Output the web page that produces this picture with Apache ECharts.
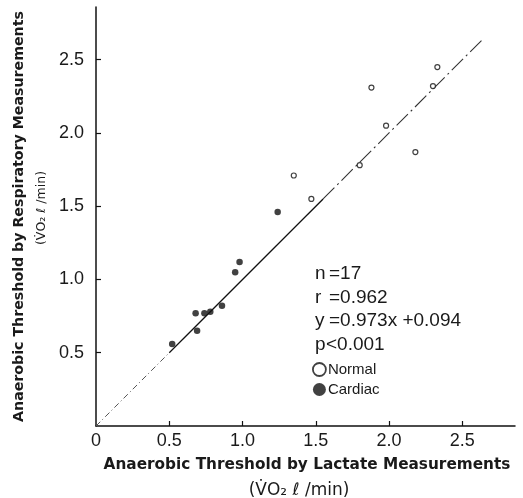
<!DOCTYPE html>
<html>
<head>
<meta charset="utf-8">
<script src="https://cdn.jsdelivr.net/npm/echarts@6/dist/echarts.min.js"></script>
<style>
html,body{margin:0;padding:0;background:#fff;}
#chart{width:523px;height:498px;}
</style>
</head>
<body>
<div id="chart"></div>
<script>
// ---- data ----
var normalX  = [1.35, 1.47, 1.80, 1.88, 1.98, 2.18, 2.30, 2.33];
var normalY  = [1.71, 1.55, 1.78, 2.31, 2.05, 1.87, 2.32, 2.45];
var cardiacX = [0.52, 0.68, 0.69, 0.74, 0.78, 0.86, 0.95, 0.98, 1.24];
var cardiacY = [0.56, 0.77, 0.65, 0.77, 0.78, 0.82, 1.05, 1.12, 1.46];
// identity line y = x, split where the printed line changes style
var lineLowX   = [0.0, 0.5];
var lineMidX   = [0.5, 1.55];
var lineHighX  = [1.55, 2.65];
var xTickVals = [0, 0.5, 1.0, 1.5, 2.0, 2.5];
var yTickVals = [0.5, 1.0, 1.5, 2.0, 2.5];
var statLabels = ['n', 'r', 'y', 'p'];
var statValues = ['=17', '=0.962', '=0.973x +0.094', '<0.001'];
var seriesNames = ['Normal', 'Cardiac'];
var xTitle1 = 'Anaerobic Threshold by Lactate Measurements';
var yTitle1 = 'Anaerobic Threshold by Respiratory Measurements';
var unitTitle = '(V\u0307O\u2082 \u2113 /min)';

function pairs(xs, ys) { return xs.map(function (x, i) { return [x, ys[i]]; }); }
function ident(xs) { return xs.map(function (x) { return [x, x]; }); }
function fmt(v) { return v === 0 ? '0' : v.toFixed(1); }

var chart = echarts.init(document.getElementById('chart'));
var FONT = 'Liberation Sans';

var graphics = [];
var statY = [275, 299, 322, 346];
statLabels.forEach(function (s, i) {
  graphics.push({ type: 'text', left: 315, top: statY[i] - 11,
    style: { text: s, font: '19px ' + FONT, fill: '#1a1a1a' } });
  graphics.push({ type: 'text', left: (s === 'p' ? 326 : 329), top: statY[i] - 11,
    style: { text: statValues[i], font: '19px ' + FONT, fill: '#1a1a1a' } });
});

chart.setOption({
  animation: false,
  backgroundColor: '#fff',
  grid: { left: 96, right: 8, top: 7, bottom: 72, containLabel: false, outerBoundsMode: 'none' },
  xAxis: {
    type: 'value', min: 0, max: 2.86, interval: 0.5,
    axisLine: { lineStyle: { color: '#111', width: 1.5 } },
    axisTick: { inside: true, length: 5, customValues: xTickVals.slice(1), lineStyle: { color: '#111', width: 1.2 } },
    axisLabel: { customValues: xTickVals, formatter: fmt, fontFamily: FONT, fontSize: 18, color: '#1a1a1a', margin: 6 },
    splitLine: { show: false },
    name: '{a|' + xTitle1 + '}\n{b|' + unitTitle + '}',
    nameLocation: 'middle', nameGap: 27,
    nameTextStyle: {
      rich: {
        a: { fontFamily: 'DejaVu Sans', fontWeight: 'bold', fontSize: 15.3, color: '#1a1a1a', lineHeight: 25, padding: [0, 0, 0, 3] },
        b: { fontFamily: 'DejaVu Sans', fontSize: 17, color: '#1a1a1a', lineHeight: 25, padding: [0, 13, 0, 0] }
      }
    }
  },
  yAxis: {
    type: 'value', min: 0, max: 2.86, interval: 0.5,
    axisLine: { lineStyle: { color: '#111', width: 1.5 } },
    axisTick: { inside: true, length: 5, customValues: yTickVals, lineStyle: { color: '#111', width: 1.2 } },
    axisLabel: { customValues: yTickVals, formatter: fmt, fontFamily: FONT, fontSize: 18, color: '#1a1a1a', margin: 12 },
    splitLine: { show: false },
    name: '{a|' + yTitle1 + '}\n{b|' + unitTitle + '}',
    nameLocation: 'middle', nameGap: 43, nameRotate: 90,
    nameTextStyle: {
      rich: {
        a: { fontFamily: 'DejaVu Sans', fontWeight: 'bold', fontSize: 14.2, color: '#1a1a1a', lineHeight: 22 },
        b: { fontFamily: 'DejaVu Sans', fontSize: 12.5, color: '#1a1a1a', lineHeight: 22, padding: [0, 0, 0, 17] }
      }
    }
  },
  legend: {
    orient: 'vertical', left: 312, top: 362, itemGap: 5,
    itemWidth: 13, itemHeight: 13, padding: 0, icon: 'circle',
    textStyle: { fontFamily: FONT, fontSize: 15, color: '#1a1a1a', padding: [0, 0, 0, -3] },
    data: [
      { name: 'Normal', itemStyle: { color: '#fff', borderColor: '#111', borderWidth: 1.8 } },
      { name: 'Cardiac', itemStyle: { color: '#111' } }
    ]
  },
  graphic: graphics,
  series: [
    { type: 'line', data: ident(lineLowX), symbol: 'none', silent: true,
      lineStyle: { color: '#555', width: 1, type: [6, 3, 1, 3] } },
    { type: 'line', data: ident(lineMidX), symbol: 'none', silent: true,
      lineStyle: { color: '#111', width: 1.3 } },
    { type: 'line', data: ident(lineHighX), symbol: 'none', silent: true,
      lineStyle: { color: '#333', width: 1.1, type: [16, 4, 2, 4] } },
    { name: seriesNames[0], type: 'scatter', data: pairs(normalX, normalY), symbol: 'circle', symbolSize: 5,
      itemStyle: { color: '#fff', borderColor: '#111', borderWidth: 1.2 }, z: 5 },
    { name: seriesNames[1], type: 'scatter', data: pairs(cardiacX, cardiacY), symbol: 'circle', symbolSize: 6.5,
      itemStyle: { color: '#111' }, z: 5 }
  ]
});
</script>
</body>
</html>
